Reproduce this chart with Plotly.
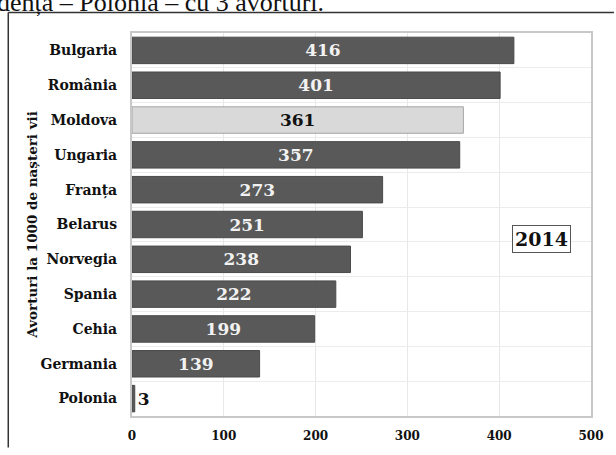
import plotly.graph_objects as go

countries = ["Bulgaria", "România", "Moldova", "Ungaria", "Franța", "Belarus",
             "Norvegia", "Spania", "Cehia", "Germania", "Polonia"]
values = [416, 401, 361, 357, 273, 251, 238, 222, 199, 139, 3]
highlight = "Moldova"
x_ticks = [0, 100, 200, 300, 400, 500]
year_label = "2014"
y_title = "Avorturi la 1000 de nașteri vii"
top_text = "incidența – Polonia – cu 3 avorturi."

DARK = "#595959"
LIGHT = "#d9d9d9"
fills = [LIGHT if c == highlight else DARK for c in countries]
lines = ["#a6a6a6" if c == highlight else "#4a4a4a" for c in countries]
tcolors = ["#111111" if (c == highlight or v < 50) else "#f2f2f2" for c, v in zip(countries, values)]
tpos = ["outside" if v < 50 else "inside" for v in values]

SERIF = "DejaVu Serif"

fig = go.Figure(go.Bar(
    y=countries, x=values, orientation="h",
    marker=dict(color=fills, line=dict(color=lines, width=1)),
    text=[str(v) for v in values], textposition=tpos,
    insidetextanchor="middle",
    textfont=dict(family=SERIF, size=17, color=tcolors, weight="bold"),
    cliponaxis=False, width=0.76,
))

W, H = 616, 455
L, R, T, B = 132, 24, 33, 32
pw, ph = W - L - R, H - T - B

def px(x):
    return (x - L) / pw

def py(y):
    return (H - B - y) / ph

fig.update_layout(
    width=W, height=H, margin=dict(l=L, r=R, t=T, b=B),
    paper_bgcolor="white", plot_bgcolor="white",
    showlegend=False,
    font=dict(family=SERIF, color="#111111"),
    xaxis=dict(range=[0, 500], tickvals=x_ticks, showgrid=True, gridcolor="#e8e8e8",
               gridwidth=1, zeroline=False, showline=True, linecolor="#c8c8c8",
               linewidth=2, mirror=True, ticks="", ticklabelstandoff=8,
               tickfont=dict(family=SERIF, size=12, weight="bold", color="#111111")),
    yaxis=dict(autorange="reversed", showgrid=True, gridcolor="#ececec", tickson="boundaries",
               ticks="", showline=True, linecolor="#c8c8c8", linewidth=2, mirror=True,
               ticklabelstandoff=10,
               tickfont=dict(family=SERIF, size=14, weight="bold", color="#111111")),
    bargap=0.24,
    annotations=[
        dict(text=y_title, textangle=-90, x=px(31), y=py(228), xref="paper", yref="paper",
             showarrow=False, font=dict(family=SERIF, size=13.5, weight="bold", color="#111111"),
             xanchor="center", yanchor="middle"),
        dict(text=year_label, x=px(542), y=py(243), xref="paper", yref="paper",
             showarrow=False, bordercolor="#555555", borderwidth=1, borderpad=2,
             bgcolor="white",
             font=dict(family=SERIF, size=19, weight="bold", color="#111111"),
             xanchor="center", yanchor="middle"),
        dict(text=top_text, x=px(326), y=py(19), xref="paper", yref="paper",
             showarrow=False, xanchor="right", yanchor="bottom",
             font=dict(family="Liberation Serif", size=26, color="#111111")),
    ],
    shapes=[
        dict(type="line", xref="paper", yref="paper", x0=px(8), y0=py(12), x1=px(615), y1=py(12),
             line=dict(color="#333333", width=1.5), layer="below"),
        dict(type="line", xref="paper", yref="paper", x0=px(8), y0=py(12), x1=px(8), y1=py(455),
             line=dict(color="#333333", width=1.5), layer="below"),
    ],
)

fig.write_html("out.html", config={"displayModeBar": False})
